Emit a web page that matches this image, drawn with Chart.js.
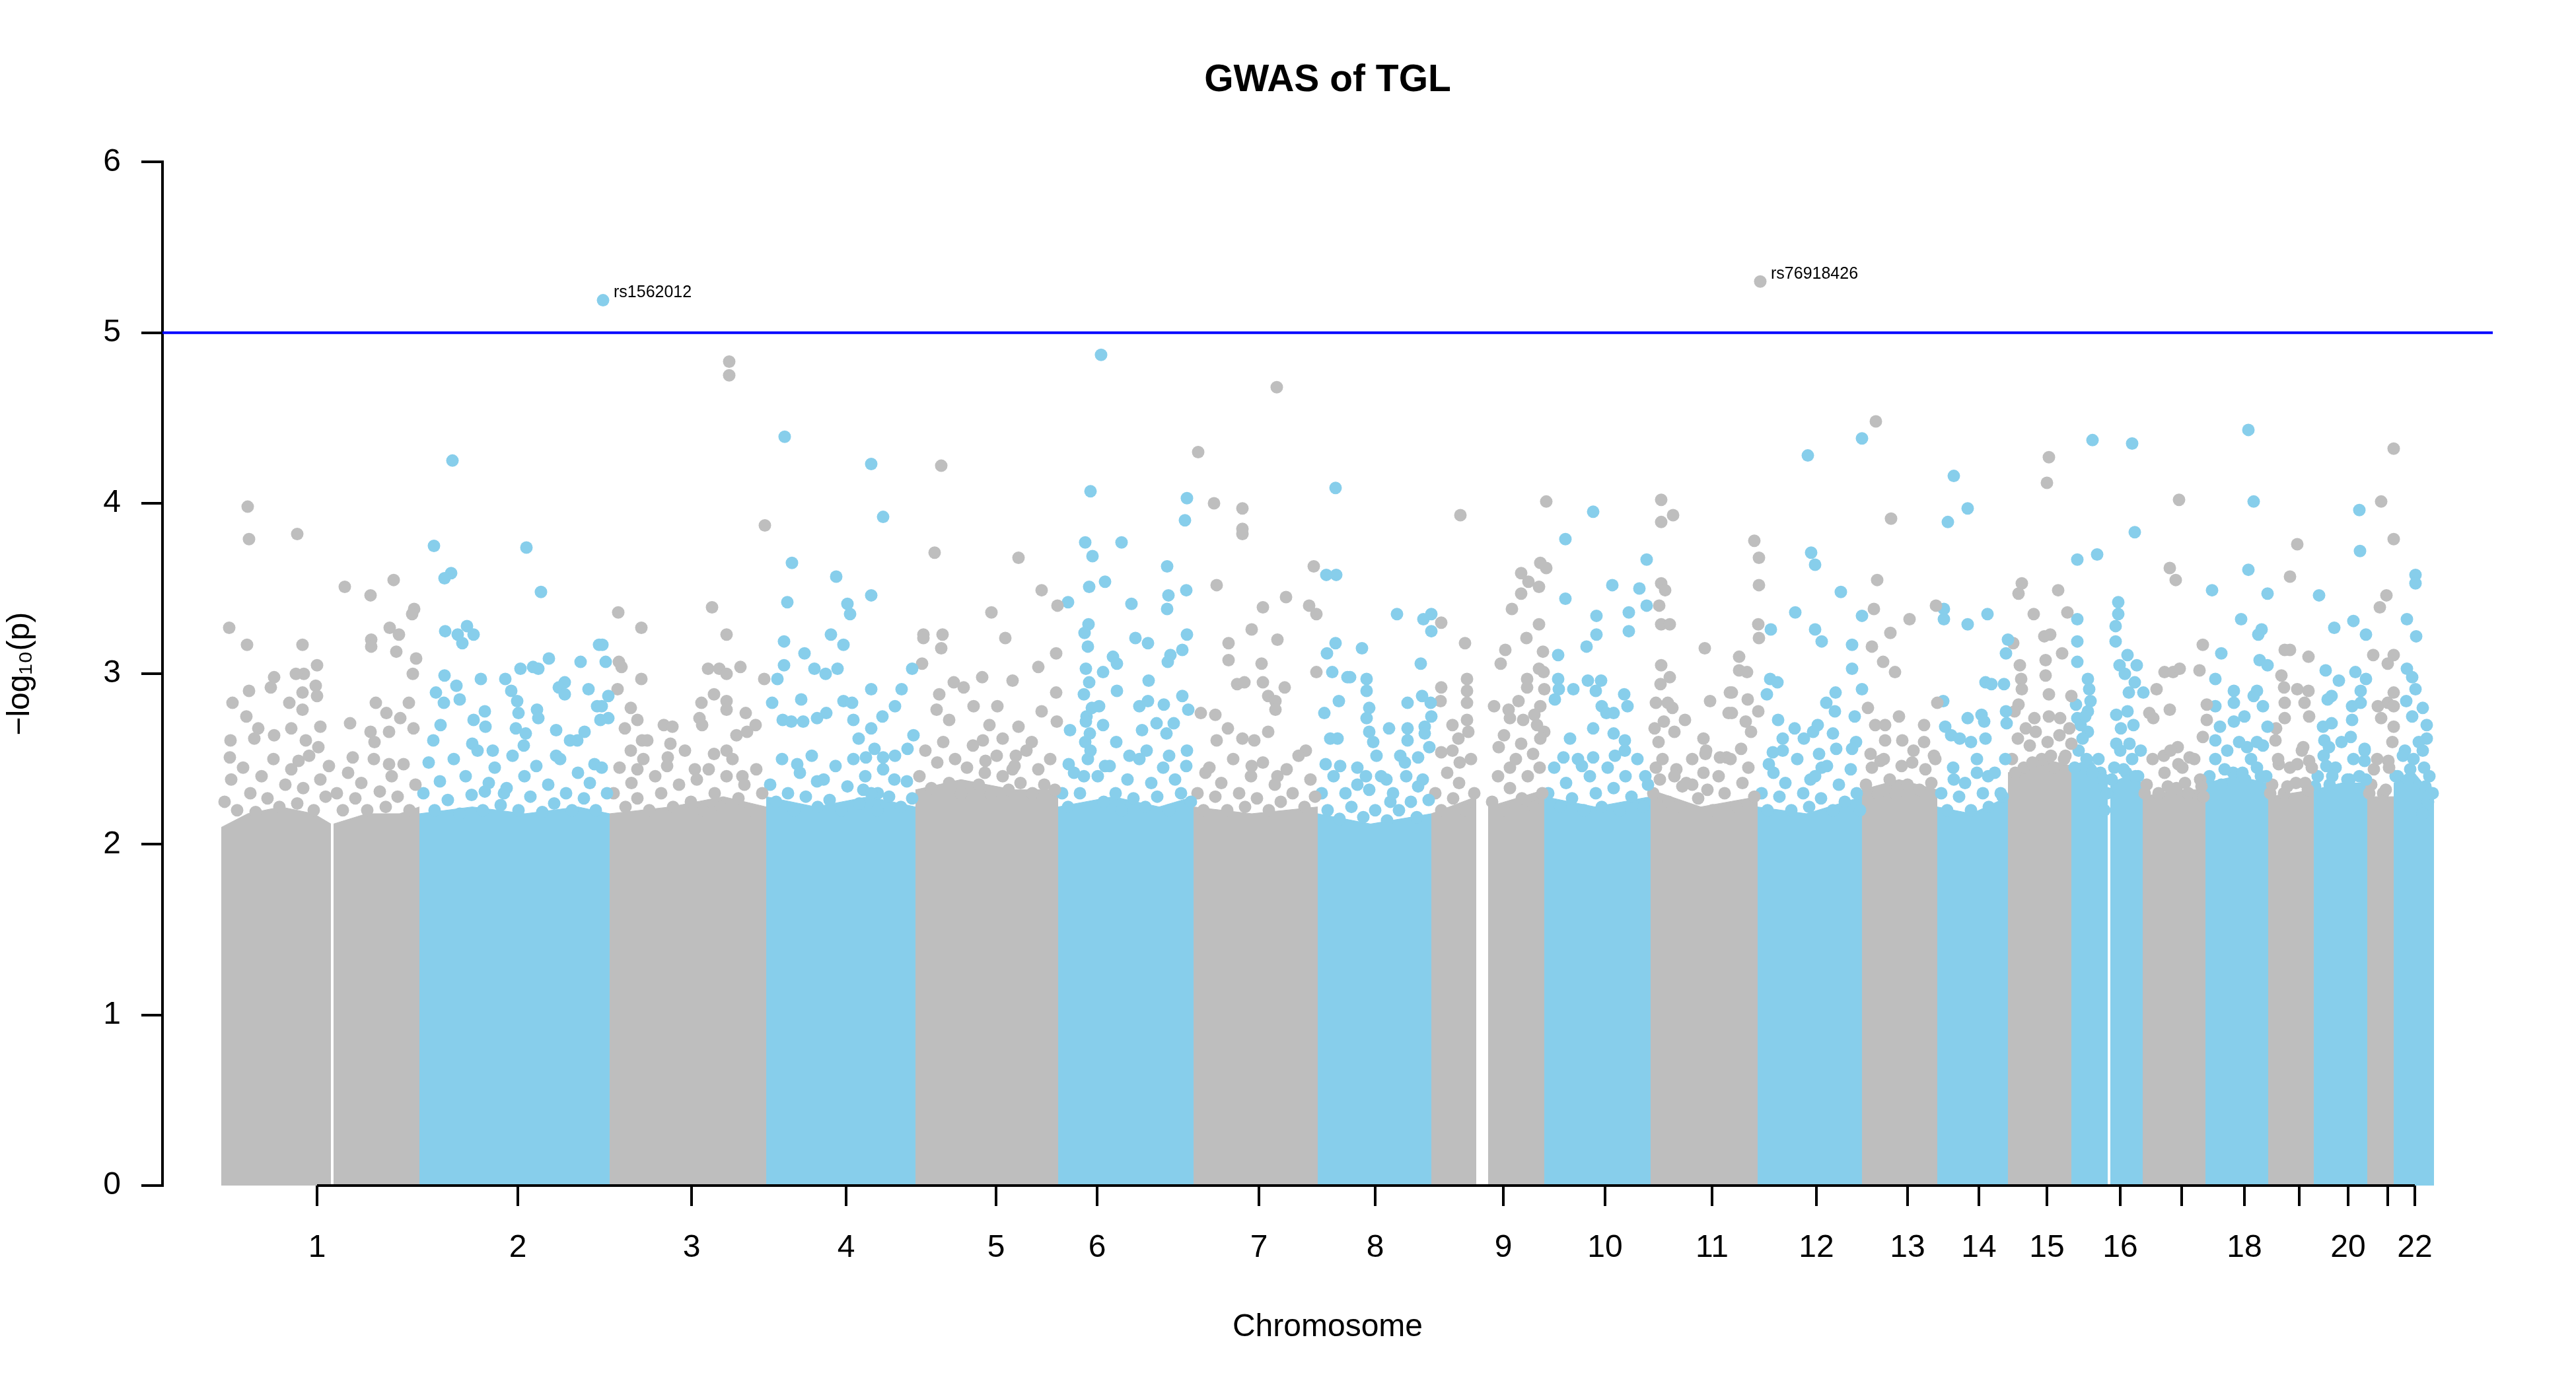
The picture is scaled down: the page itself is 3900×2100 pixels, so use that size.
<!DOCTYPE html>
<html>
<head>
<meta charset="utf-8">
<title>GWAS of TGL</title>
<script src="https://cdn.jsdelivr.net/npm/chart.js@4.4.1/dist/chart.umd.min.js"></script>
<style>
  html, body { margin: 0; padding: 0; background: #fff; }
  #wrap { width: 3900px; height: 2100px; }
</style>
</head>
<body>
<div id="wrap"><canvas id="manhattan" width="3900" height="2100"></canvas></div>
<script>
// cumulative genome position (arbitrary units, chr1 starts at 0) and -log10(p)
const xMin = -89, xMax = 3439;
const suggestiveLine = 5;

const chrTickPos = [145, 449, 712, 946, 1173, 1326, 1571, 1747, 1941, 2095, 2257, 2415, 2553, 2661, 2764, 2875, 2968, 3063, 3146, 3220, 3280, 3321];
const chrTickLabels = ['1','2','3','4','5','6','7','8','9','10','11','12','13','14','15','16','','18','','20','','22'];

// annotated top hits
const hitNames = ['rs1562012', 'rs76918426'];
const hitPos = [578, 2330];
const hitLogP = [5.19, 5.30];

// upper edge of the solid cloud of SNPs, per chromosome segment
const coreChr = [1,1,2,3,4,5,6,7,8,9,9,10,11,12,13,14,15,16,16,17,18,19,20,21,22];
const coreTop = [
  [[0,2.1],[40,2.18],[90,2.22],[140,2.18],[166,2.12]],
  [[170,2.12],[220,2.18],[270,2.18],[300,2.22]],
  [[300,2.18],[380,2.22],[460,2.18],[540,2.22],[588,2.18]],
  [[588,2.18],[680,2.22],[760,2.28],[825,2.22]],
  [[825,2.28],[900,2.22],[980,2.28],[1051,2.22]],
  [[1051,2.32],[1120,2.38],[1200,2.32],[1267,2.32]],
  [[1267,2.22],[1350,2.28],[1420,2.22],[1472,2.28]],
  [[1472,2.22],[1560,2.18],[1660,2.22]],
  [[1660,2.18],[1740,2.12],[1832,2.18]],
  [[1832,2.18],[1900,2.28]],
  [[1918,2.22],[2003,2.32]],
  [[2003,2.28],[2080,2.22],[2164,2.28]],
  [[2164,2.32],[2240,2.22],[2326,2.28]],
  [[2326,2.22],[2400,2.18],[2484,2.28]],
  [[2484,2.32],[2540,2.38],[2598,2.32]],
  [[2598,2.22],[2650,2.18],[2705,2.28]],
  [[2705,2.42],[2760,2.5],[2801,2.46]],
  [[2801,2.46],[2830,2.5],[2856,2.36]],
  [[2860,2.36],[2885,2.4],[2909,2.36]],
  [[2909,2.28],[2960,2.32],[3004,2.32]],
  [[3004,2.36],[3050,2.4],[3099,2.36]],
  [[3099,2.28],[3168,2.32]],
  [[3168,2.32],[3210,2.36],[3249,2.36]],
  [[3249,2.28],[3289,2.28]],
  [[3289,2.36],[3320,2.42],[3350,2.28]]
];

// SNPs above the solid cloud: [position, -log10(p)]
const chr1Hits = [[40,3.98],[42,3.79],[115,3.82],[12,3.27],[39,3.17],[123,3.17],[187,3.51],[226,3.46],[261,3.55],[292,3.38],[289,3.35],[255,3.27],[269,3.23],[227,3.20],[227,3.16],[265,3.13],[295,3.09],[290,3.0],[145,3.05],[125,3.0],[113,3.0],[80,2.98],[75,2.92],[42,2.90],[143,2.93],[145,2.87],[123,2.89],[17,2.83],[103,2.83],[123,2.79],[38,2.75],[234,2.83],[250,2.77],[284,2.83],[195,2.71],[271,2.74],[150,2.69],[56,2.68],[14,2.61],[13,2.51],[50,2.62],[80,2.64],[106,2.68],[128,2.61],[147,2.57],[226,2.66],[254,2.66],[291,2.68],[199,2.51],[254,2.47],[232,2.60],[117,2.49],
  [5,2.25],[15,2.38],[24,2.2],[33,2.45],[44,2.3],[52,2.19],[61,2.4],[70,2.27],[79,2.5],[88,2.22],[97,2.35],[106,2.44],[115,2.24],[124,2.33],[133,2.52],[140,2.2],[150,2.38],[158,2.28],[163,2.46],[175,2.3],[184,2.2],[192,2.42],[203,2.27],[212,2.36],[221,2.2],[231,2.5],[240,2.31],[249,2.22],[258,2.4],[267,2.28],[276,2.47],[285,2.2],[294,2.35]];
const chr2Hits = [[350,4.25],[322,3.75],[348,3.59],[338,3.56],[462,3.74],[484,3.48],[578,5.19],[339,3.25],[358,3.23],[372,3.28],[382,3.23],[365,3.18],[496,3.09],[453,3.03],[472,3.04],[480,3.03],[544,3.07],[572,3.17],[338,2.99],[356,2.93],[393,2.97],[430,2.97],[325,2.89],[439,2.90],[448,2.84],[520,2.95],[511,2.92],[520,2.88],[556,2.91],[337,2.83],[361,2.85],[399,2.78],[450,2.77],[478,2.79],[480,2.74],[569,2.81],[332,2.70],[382,2.73],[400,2.69],[446,2.68],[461,2.65],[321,2.61],[380,2.59],[411,2.55],[507,2.67],[539,2.61],[550,2.66],[528,2.61],[458,2.58],[507,2.52],[565,2.47],[399,2.31],[428,2.30],[577,3.17],[582,3.07],[586,2.74],[576,2.81],[574,2.73],[586,2.87],
  [306,2.3],[314,2.48],[323,2.2],[331,2.37],[343,2.26],[352,2.5],[361,2.18],[370,2.4],[379,2.29],[388,2.55],[396,2.2],[405,2.36],[414,2.45],[423,2.23],[432,2.33],[441,2.52],[450,2.2],[459,2.4],[468,2.28],[477,2.46],[486,2.19],[495,2.35],[504,2.24],[513,2.5],[522,2.3],[531,2.2],[540,2.42],[549,2.27],[558,2.36],[567,2.2],[576,2.45],[584,2.3]];
const chr3Hits = [[769,4.83],[769,4.75],[823,3.87],[601,3.36],[636,3.27],[743,3.39],[765,3.23],[602,3.07],[606,3.04],[636,2.97],[737,3.03],[754,3.03],[765,3.00],[786,3.04],[600,2.91],[746,2.88],[727,2.83],[765,2.84],[765,2.79],[794,2.77],[822,2.97],[620,2.80],[630,2.73],[724,2.74],[728,2.70],[611,2.68],[670,2.70],[683,2.69],[780,2.64],[796,2.66],[809,2.70],[637,2.61],[645,2.61],[620,2.55],[680,2.59],[746,2.53],[765,2.55],[630,2.44],[676,2.51],[717,2.44],[789,2.40],
  [594,2.3],[603,2.45],[612,2.22],[621,2.36],[630,2.27],[639,2.5],[648,2.2],[657,2.4],[666,2.3],[675,2.46],[684,2.22],[693,2.35],[702,2.55],[711,2.25],[720,2.38],[729,2.2],[738,2.44],[747,2.3],[756,2.22],[765,2.4],[774,2.5],[783,2.27],[792,2.35],[801,2.2],[810,2.44],[819,2.3]];
const chr4Hits = [[853,4.39],[984,4.23],[1002,3.92],[864,3.65],[931,3.57],[984,3.46],[948,3.41],[952,3.35],[857,3.42],[852,3.19],[923,3.23],[942,3.17],[852,3.05],[883,3.12],[898,3.03],[915,3.00],[933,3.03],[1046,3.03],[842,2.97],[984,2.91],[1030,2.91],[834,2.83],[878,2.85],[916,2.77],[942,2.84],[955,2.83],[1020,2.81],[1001,2.75],[957,2.73],[984,2.68],[850,2.73],[863,2.72],[881,2.72],[902,2.74],[965,2.62],[1048,2.64],[976,2.51],[989,2.56],[1002,2.51],[1039,2.56],[972,2.32],[994,2.30],[1019,2.38],[902,2.37],[872,2.47],
  [831,2.35],[840,2.25],[849,2.5],[858,2.3],[867,2.2],[876,2.42],[885,2.28],[894,2.52],[903,2.22],[912,2.38],[921,2.26],[930,2.46],[939,2.2],[948,2.34],[957,2.5],[966,2.24],[975,2.4],[984,2.3],[993,2.2],[1002,2.44],[1011,2.28],[1020,2.52],[1029,2.22],[1038,2.37],[1046,2.27]];
const chr5Hits = [[1090,4.22],[1080,3.71],[1063,3.23],[1063,3.21],[1092,3.23],[1090,3.15],[1061,3.06],[1087,2.88],[1109,2.95],[1124,2.92],[1083,2.79],[1102,2.73],[1207,3.68],[1242,3.49],[1166,3.36],[1266,3.40],[1187,3.21],[1152,2.98],[1198,2.96],[1237,3.04],[1264,3.12],[1264,2.89],[1175,2.81],[1242,2.78],[1139,2.81],[1163,2.70],[1207,2.69],[1265,2.72],[1153,2.61],[1183,2.62],[1227,2.60],[1203,2.52],[1198,2.44],[1157,2.49],
  [1057,2.4],[1066,2.55],[1075,2.33],[1084,2.48],[1093,2.6],[1102,2.36],[1111,2.5],[1120,2.3],[1129,2.45],[1138,2.58],[1147,2.35],[1156,2.42],[1165,2.3],[1174,2.52],[1183,2.4],[1192,2.32],[1201,2.46],[1210,2.36],[1219,2.55],[1228,2.3],[1237,2.44],[1246,2.35],[1255,2.5],[1262,2.32]];
const chr6Hits = [[1332,4.87],[1316,4.07],[1308,3.77],[1319,3.69],[1363,3.77],[1314,3.51],[1338,3.54],[1282,3.42],[1432,3.63],[1434,3.46],[1432,3.38],[1461,3.49],[1378,3.41],[1313,3.29],[1307,3.24],[1312,3.16],[1384,3.21],[1403,3.18],[1462,4.03],[1459,3.90],[1462,3.23],[1455,3.14],[1437,3.11],[1433,3.07],[1350,3.10],[1356,3.06],[1404,2.96],[1356,2.90],[1309,3.03],[1335,3.01],[1390,2.81],[1403,2.84],[1427,2.82],[1455,2.87],[1464,2.79],[1329,2.81],[1335,2.70],[1394,2.67],[1416,2.71],[1431,2.65],[1442,2.71],[1285,2.67],[1355,2.60],[1375,2.52],[1435,2.52],[1401,2.55],[1283,2.47],[1338,2.46],[1461,2.46],
  [1273,2.3],[1282,2.22],[1291,2.42],[1300,2.3],[1306,2.4],[1312,2.5],[1308,2.6],[1315,2.65],[1310,2.75],[1318,2.8],[1306,2.88],[1314,2.95],[1309,2.72],[1316,2.55],[1327,2.4],[1336,2.25],[1345,2.46],[1354,2.3],[1363,2.2],[1372,2.38],[1381,2.27],[1390,2.5],[1399,2.22],[1408,2.36],[1417,2.28],[1426,2.45],[1435,2.2],[1444,2.38],[1453,2.3],[1462,2.55],[1468,2.25]];
const chr7Hits = [[1598,4.68],[1479,4.30],[1503,4.00],[1546,3.97],[1546,3.85],[1546,3.82],[1507,3.52],[1654,3.63],[1612,3.45],[1577,3.39],[1647,3.40],[1658,3.35],[1560,3.26],[1525,3.18],[1599,3.20],[1525,3.08],[1575,3.06],[1658,3.01],[1538,2.94],[1549,2.95],[1577,2.95],[1610,2.92],[1585,2.87],[1596,2.84],[1596,2.79],[1483,2.77],[1505,2.76],[1524,2.68],[1585,2.66],[1546,2.62],[1564,2.61],[1642,2.55],[1507,2.61],[1490,2.42],[1560,2.46],[1599,2.40],
  [1478,2.3],[1487,2.2],[1496,2.45],[1505,2.28],[1514,2.36],[1523,2.2],[1532,2.5],[1541,2.3],[1550,2.22],[1559,2.4],[1568,2.27],[1577,2.48],[1586,2.2],[1595,2.35],[1604,2.25],[1613,2.44],[1622,2.3],[1631,2.52],[1640,2.22],[1649,2.38],[1656,2.28]];
const chr8Hits = [[1687,4.09],[1673,3.58],[1688,3.58],[1687,3.18],[1674,3.12],[1682,3.01],[1705,2.98],[1692,2.84],[1670,2.77],[1679,2.62],[1690,2.62],[1672,2.47],[1694,2.46],[1780,3.35],[1820,3.32],[1832,3.35],[1832,3.25],[1727,3.15],[1709,2.98],[1816,3.06],[1734,2.97],[1734,2.90],[1796,2.83],[1818,2.87],[1831,2.83],[1738,2.80],[1734,2.74],[1738,2.66],[1744,2.60],[1749,2.52],[1768,2.68],[1796,2.68],[1796,2.61],[1822,2.69],[1822,2.65],[1832,2.75],[1785,2.52],[1812,2.51],[1829,2.57],[1733,2.40],[1720,2.35],[1764,2.38],[1794,2.40],[1812,2.34],[1770,2.25],
  [1666,2.3],[1675,2.2],[1684,2.4],[1693,2.15],[1702,2.3],[1711,2.22],[1720,2.45],[1729,2.16],[1738,2.32],[1747,2.2],[1756,2.4],[1765,2.14],[1774,2.3],[1783,2.2],[1792,2.48],[1801,2.25],[1810,2.16],[1819,2.38],[1828,2.26]];
const chr9Hits = [[1876,3.93],[1883,3.18],[1847,3.30],[1886,2.97],[1886,2.90],[1886,2.83],[1886,2.73],[1888,2.66],[1847,2.92],[1846,2.84],[1864,2.70],[1873,2.62],[1847,2.54],[1864,2.55],[1875,2.48],[2006,4.01],[2006,3.62],[1997,3.65],[1968,3.59],[1979,3.54],[1995,3.51],[1968,3.47],[1954,3.38],[1995,3.29],[1976,3.21],[1944,3.14],[1937,3.06],[2001,3.13],[1995,3.03],[2002,3.01],[1977,2.97],[1977,2.92],[2003,2.91],[1927,2.81],[1949,2.79],[1951,2.74],[1964,2.84],[1997,2.81],[1971,2.73],[1988,2.76],[1992,2.70],[2003,2.66],[1942,2.64],[1934,2.57],[1968,2.59],[1986,2.53],[1997,2.62],[1951,2.45],
  [1838,2.3],[1847,2.2],[1856,2.42],[1865,2.27],[1874,2.36],[1883,2.2],[1892,2.5],[1897,2.3],[1924,2.25],[1933,2.4],[1942,2.2],[1951,2.33],[1960,2.5],[1969,2.27],[1978,2.4],[1987,2.22],[1996,2.45],[2000,2.3]];
const chr10Hits = [[2077,3.95],[2035,3.79],[2158,3.67],[2106,3.52],[2147,3.50],[2035,3.44],[2158,3.40],[2082,3.34],[2082,3.23],[2131,3.36],[2131,3.25],[2024,3.11],[2067,3.16],[2024,2.97],[2025,2.91],[2019,2.85],[2047,2.91],[2069,2.96],[2089,2.96],[2081,2.90],[2124,2.88],[2129,2.81],[2090,2.81],[2097,2.77],[2108,2.77],[2077,2.68],[2108,2.65],[2042,2.62],[2125,2.61],[2125,2.55],[2032,2.51],[2077,2.51],[2110,2.52],[2060,2.46],[2156,2.40],
  [2009,2.3],[2018,2.45],[2027,2.22],[2036,2.36],[2045,2.27],[2054,2.5],[2063,2.2],[2072,2.4],[2081,2.3],[2090,2.22],[2099,2.45],[2108,2.33],[2117,2.2],[2126,2.4],[2135,2.28],[2144,2.5],[2153,2.22],[2160,2.35]];
const chr11Hits = [[2180,4.02],[2180,3.89],[2198,3.93],[2180,3.53],[2186,3.49],[2177,3.40],[2180,3.29],[2193,3.29],[2246,3.15],[2180,3.05],[2193,2.98],[2179,2.94],[2172,2.83],[2190,2.83],[2197,2.80],[2254,2.84],[2284,2.89],[2282,2.77],[2216,2.73],[2200,2.66],[2203,2.44],[2269,2.51],[2244,2.62],[2247,2.53],[2212,2.34],[2227,2.35],[2330,5.30],[2321,3.78],[2328,3.68],[2328,3.52],[2327,3.29],[2328,3.21],[2298,3.10],[2298,3.02],[2310,3.01],[2287,2.89],[2311,2.85],[2287,2.77],[2327,2.78],[2308,2.72],[2316,2.66],[2301,2.56],[2279,2.51],
  [2168,2.3],[2172,2.45],[2176,2.6],[2182,2.5],[2170,2.68],[2184,2.72],[2178,2.38],[2191,2.25],[2200,2.4],[2209,2.22],[2218,2.36],[2227,2.5],[2236,2.27],[2244,2.42],[2248,2.55],[2250,2.32],[2258,2.2],[2267,2.4],[2276,2.3],[2285,2.5],[2294,2.22],[2303,2.36],[2312,2.45],[2321,2.28]];
const chr12Hits = [[2402,4.28],[2484,4.38],[2407,3.71],[2413,3.64],[2452,3.48],[2383,3.36],[2346,3.26],[2413,3.26],[2423,3.19],[2484,3.34],[2469,3.17],[2469,3.03],[2345,2.97],[2356,2.95],[2340,2.88],[2444,2.89],[2430,2.83],[2443,2.78],[2484,2.91],[2473,2.75],[2357,2.73],[2382,2.68],[2396,2.62],[2410,2.66],[2417,2.70],[2440,2.65],[2445,2.56],[2364,2.62],[2364,2.55],[2419,2.53],[2423,2.45],[2349,2.54],[2343,2.47],[2475,2.60],[2406,2.38],[2469,2.56],
  [2332,2.3],[2341,2.2],[2350,2.42],[2359,2.28],[2368,2.36],[2377,2.2],[2386,2.5],[2395,2.3],[2404,2.22],[2413,2.4],[2422,2.27],[2431,2.46],[2440,2.2],[2449,2.35],[2458,2.25],[2467,2.44],[2476,2.3],[2481,2.2]];
const chr13Hits = [[2505,4.48],[2528,3.91],[2507,3.55],[2502,3.38],[2556,3.32],[2596,3.40],[2527,3.24],[2499,3.16],[2516,3.07],[2534,3.01],[2493,2.80],[2504,2.70],[2519,2.70],[2540,2.75],[2578,2.70],[2578,2.60],[2519,2.61],[2545,2.61],[2598,2.83],[2560,2.48],[2593,2.52],[2497,2.53],[2512,2.49],
  [2490,2.35],[2499,2.45],[2508,2.3],[2517,2.5],[2526,2.38],[2535,2.3],[2544,2.46],[2553,2.35],[2562,2.55],[2571,2.32],[2580,2.44],[2589,2.36],[2595,2.5]];
const chr14Hits = [[2623,4.16],[2644,3.97],[2614,3.89],[2608,3.38],[2608,3.32],[2644,3.29],[2674,3.35],[2705,3.20],[2702,3.12],[2671,2.95],[2680,2.94],[2699,2.94],[2607,2.84],[2644,2.74],[2665,2.76],[2669,2.72],[2702,2.78],[2703,2.71],[2610,2.69],[2619,2.64],[2632,2.62],[2649,2.60],[2671,2.62],[2658,2.42],[2675,2.40],[2697,2.28],[2623,2.38],
  [2604,2.3],[2613,2.2],[2622,2.45],[2631,2.28],[2640,2.36],[2649,2.2],[2658,2.5],[2667,2.3],[2676,2.22],[2685,2.42],[2694,2.3],[2701,2.5]];
const chr15Hits = [[2767,4.27],[2764,4.12],[2726,3.53],[2721,3.47],[2781,3.49],[2744,3.35],[2795,3.36],[2760,3.22],[2769,3.23],[2713,3.18],[2787,3.12],[2762,3.08],[2762,2.99],[2723,3.05],[2725,2.97],[2726,2.91],[2767,2.88],[2721,2.82],[2715,2.78],[2745,2.74],[2767,2.75],[2784,2.74],[2732,2.68],[2801,2.87],[2801,2.59],
  [2711,2.5],[2720,2.62],[2729,2.45],[2738,2.58],[2747,2.66],[2756,2.5],[2765,2.6],[2774,2.45],[2783,2.64],[2792,2.52],[2798,2.68],
  [2716,2.42],[2742,2.48],[2770,2.52],[2790,2.5]];
const chr16Hits = [[2833,4.37],[2840,3.70],[2810,3.67],[2810,3.32],[2810,3.19],[2810,3.07],[2826,2.97],[2828,2.91],[2830,2.84],[2826,2.78],[2808,2.82],[2810,2.74],[2826,2.66],[2893,4.35],[2897,3.83],[2872,3.42],[2872,3.35],[2868,3.28],[2868,3.19],[2886,3.11],[2874,3.05],[2900,3.05],[2882,3.00],[2888,2.89],[2910,2.89],[2897,2.95],[2869,2.76],[2886,2.78],[2876,2.68],[2895,2.70],[2869,2.59],[2889,2.59],[2845,2.42],[2851,2.20],
  [2806,2.45],[2812,2.55],[2818,2.62],[2824,2.5],[2815,2.7],[2822,2.75],[2833,2.42],[2842,2.5],[2850,2.38],[2866,2.45],[2875,2.55],[2884,2.42],[2893,2.5],[2902,2.4],[2906,2.55],
  [2862,2.38],[2880,2.44],[2898,2.4],[2855,2.3]];
const chr17Hits = [[2964,4.02],[2950,3.62],[2959,3.55],[3000,3.17],[2942,3.01],[2955,3.01],[2965,3.03],[2995,3.02],[2930,2.91],[2950,2.79],[2919,2.77],[2925,2.74],[3006,2.82],[3006,2.73],[3000,2.63],[2962,2.57],[2980,2.51],[2941,2.52],[2963,2.47],
  [2915,2.35],[2924,2.5],[2933,2.3],[2942,2.42],[2951,2.55],[2960,2.33],[2969,2.45],[2978,2.3],[2987,2.5],[2996,2.38],[3001,2.28],
  [2912,2.3],[2947,2.34],[2973,2.36],[2998,2.34]];
const chr18Hits = [[3069,4.43],[3077,4.01],[3069,3.61],[3014,3.49],[3098,3.47],[3058,3.32],[3028,3.12],[3084,3.23],[3089,3.26],[3019,2.97],[3086,3.08],[3098,3.05],[3047,2.90],[3047,2.83],[3047,2.72],[3063,2.75],[3082,2.90],[3077,2.87],[3019,2.81],[3026,2.69],[3019,2.61],[3091,2.81],[3098,2.69],[3067,2.57],[3082,2.60],
  [3010,2.4],[3019,2.5],[3028,2.35],[3037,2.55],[3046,2.42],[3055,2.6],[3064,2.38],[3073,2.5],[3082,2.45],[3091,2.58],[3096,2.4],
  [3008,2.38],[3033,2.44],[3060,2.42],[3088,2.4]];
const chr19Hits = [[3143,3.76],[3132,3.57],[3132,3.14],[3124,3.14],[3160,3.10],[3119,2.99],[3123,2.92],[3143,2.91],[3160,2.90],[3154,2.83],[3124,2.83],[3124,2.74],[3161,2.75],[3111,2.68],[3110,2.61],[3152,2.57],[3161,2.49],[3143,2.47],[3115,2.47],
  [3105,2.35],[3114,2.5],[3123,2.3],[3132,2.45],[3141,2.36],[3150,2.55],[3159,2.32],[3165,2.45],
  [3102,2.3],[3128,2.34],[3155,2.36]];
const chr20Hits = [[3237,3.96],[3238,3.72],[3176,3.46],[3199,3.27],[3228,3.31],[3247,3.23],[3186,3.02],[3206,2.96],[3231,3.01],[3247,2.97],[3239,2.90],[3239,2.83],[3189,2.85],[3195,2.87],[3182,2.69],[3195,2.71],[3184,2.61],[3191,2.57],[3226,2.81],[3226,2.73],[3224,2.63],[3245,2.56],[3245,2.49],[3187,2.46],
  [3174,2.4],[3183,2.52],[3192,2.35],[3201,2.45],[3210,2.6],[3219,2.38],[3228,2.5],[3237,2.4],[3245,2.55],
  [3170,2.34],[3196,2.4],[3222,2.38],[3247,2.38]];
const chr21Hits = [[3270,4.01],[3289,4.32],[3289,3.79],[3278,3.46],[3268,3.39],[3289,3.11],[3280,3.06],[3258,3.11],[3289,2.89],[3280,2.83],[3289,2.81],[3265,2.81],[3270,2.74],[3289,2.69],[3259,2.44],[3281,2.49],
  [3255,2.35],[3264,2.5],[3273,2.3],[3282,2.45],[3287,2.6],
  [3252,2.3],[3277,2.32]];
const chr22Hits = [[3322,3.58],[3322,3.53],[3309,3.32],[3323,3.22],[3309,3.03],[3317,2.98],[3322,2.91],[3333,2.80],[3339,2.70],[3339,2.62],[3333,2.55],[3308,2.84],[3317,2.75],[3337,2.34],[3341,2.25],[3333,2.18],[3306,2.55],
  [3295,2.4],[3303,2.52],[3311,2.38],[3319,2.5],[3327,2.6],[3335,2.45],[3343,2.4],[3348,2.3],
  [3292,2.4],[3314,2.44],[3346,2.3]];

const snpsByChr = [chr1Hits, chr2Hits, chr3Hits, chr4Hits, chr5Hits, chr6Hits, chr7Hits, chr8Hits, chr9Hits, chr10Hits, chr11Hits,
  chr12Hits, chr13Hits, chr14Hits, chr15Hits, chr16Hits, chr17Hits, chr18Hits, chr19Hits, chr20Hits, chr21Hits, chr22Hits];

const FONT = "'Liberation Sans', Arial, Helvetica, sans-serif";
const GREY = '#BEBEBE', SKY = '#87CEEB';
const chrColour = chr => (chr % 2 ? GREY : SKY);
const toXY = pts => pts.map(([x, y]) => ({x, y}));

const datasets = [];

// x axis line runs from the first to the last chromosome tick only
datasets.push({type: 'line', data: [{x: chrTickPos[0], y: 0}, {x: chrTickPos[chrTickPos.length - 1], y: 0}],
  borderColor: '#000', borderWidth: 4, pointRadius: 0, clip: false, order: 0});

// suggestive significance line
datasets.push({type: 'line', data: [{x: xMin, y: suggestiveLine}, {x: xMax, y: suggestiveLine}],
  borderColor: '#0000FF', borderWidth: 4, pointRadius: 0, order: 1});

snpsByChr.forEach((pts, i) => {
  datasets.push({type: 'scatter', data: toXY(pts), backgroundColor: chrColour(i + 1),
    borderWidth: 0, pointRadius: 9.5, pointHoverRadius: 9.5, clip: 0, order: 2});
});

coreTop.forEach((pts, i) => {
  const c = chrColour(coreChr[i]);
  datasets.push({type: 'line', data: toXY(pts), fill: 'origin', backgroundColor: c, borderColor: c,
    borderWidth: 1, pointRadius: 0, tension: 0, order: 3});
});

const hitLabels = {
  id: 'hitLabels',
  afterDatasetsDraw(chart) {
    const {ctx, scales: {x, y}} = chart;
    ctx.save();
    ctx.font = `25px ${FONT}`;
    ctx.fillStyle = '#000';
    ctx.textAlign = 'left';
    ctx.textBaseline = 'middle';
    hitNames.forEach((name, i) => {
      ctx.fillText(name, x.getPixelForValue(hitPos[i]) + 16, y.getPixelForValue(hitLogP[i]) - 11);
    });
    ctx.restore();
  }
};

new Chart(document.getElementById('manhattan'), {
  type: 'scatter',
  data: {datasets},
  plugins: [hitLabels],
  options: {
    responsive: false,
    devicePixelRatio: 1,
    animation: false,
    events: [],
    layout: {padding: {left: 0, right: 126, top: 0, bottom: 0}},
    plugins: {
      legend: {display: false},
      tooltip: {enabled: false},
      title: {
        display: true, text: 'GWAS of TGL', color: '#000', fullSize: false,
        font: {family: FONT, size: 57, weight: 'bold', lineHeight: 1.2},
        padding: {top: 88, bottom: 89}
      }
    },
    scales: {
      x: {
        type: 'linear', min: xMin, max: xMax,
        afterBuildTicks: s => { s.ticks = chrTickPos.map(v => ({value: v})); },
        afterFit: s => { s.height = 305; },
        grid: {display: true, drawOnChartArea: false, drawTicks: true, tickLength: 31, tickWidth: 4, tickColor: '#000', color: '#000', lineWidth: 4},
        border: {display: false},
        ticks: {autoSkip: false, maxRotation: 0, minRotation: 0, padding: 35, color: '#000',
          font: {family: FONT, size: 48}, callback: (v, i) => chrTickLabels[i]},
        title: {display: true, text: 'Chromosome', color: '#000', font: {family: FONT, size: 48, lineHeight: 1.2},
          padding: {top: 0, bottom: 61}}
      },
      y: {
        min: 0, max: 6,
        afterFit: s => { s.width = 246; },
        grid: {display: true, drawOnChartArea: false, drawTicks: true, tickLength: 32, tickWidth: 4, tickColor: '#000', color: '#000', lineWidth: 4},
        border: {display: true, color: '#000', width: 4},
        ticks: {stepSize: 1, padding: 31, color: '#000', font: {family: FONT, size: 48}},
        title: {display: true, text: '\u2212log\u2081\u2080(p)', color: '#000', font: {family: FONT, size: 48, lineHeight: 1.2},
          padding: {top: 2, bottom: 0}}
      }
    }
  }
});
</script>
</body>
</html>
